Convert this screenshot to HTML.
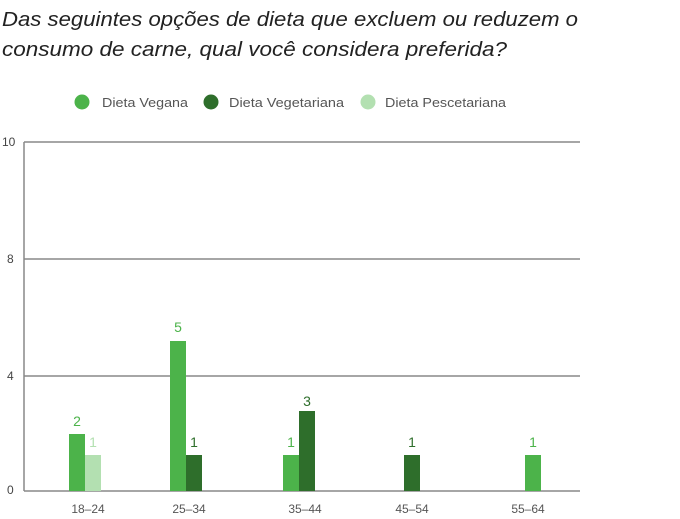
<!DOCTYPE html>
<html><head><meta charset="utf-8"><style>
html,body{margin:0;padding:0;background:#fff;}
svg{display:block;font-family:"Liberation Sans",sans-serif;}
</style></head><body>
<svg width="680" height="519" viewBox="0 0 680 519" xmlns="http://www.w3.org/2000/svg">
<g font-style="italic" font-size="20" fill="#222">
<text x="2" y="26" textLength="576" lengthAdjust="spacingAndGlyphs">Das seguintes opções de dieta que excluem ou reduzem o</text>
<text x="2" y="56" textLength="505" lengthAdjust="spacingAndGlyphs">consumo de carne, qual você considera preferida?</text>
</g>
<g font-size="13" fill="#555">
<circle cx="82" cy="102" r="7.5" fill="#4cb34a"/>
<text x="102" y="107" textLength="86" lengthAdjust="spacingAndGlyphs">Dieta Vegana</text>
<circle cx="211" cy="102" r="7.5" fill="#2e6e2b"/>
<text x="229" y="107" textLength="115" lengthAdjust="spacingAndGlyphs">Dieta Vegetariana</text>
<circle cx="368" cy="102" r="7.5" fill="#b3e0b1"/>
<text x="385" y="107" textLength="121" lengthAdjust="spacingAndGlyphs">Dieta Pescetariana</text>
</g>
<g stroke="#888" stroke-width="1.5" fill="none">
<line x1="24" y1="142" x2="580" y2="142"/>
<line x1="24" y1="259" x2="580" y2="259"/>
<line x1="24" y1="376" x2="580" y2="376"/>
<line x1="24" y1="491" x2="580" y2="491"/>
<line x1="24" y1="142" x2="24" y2="491"/>
</g>
<g font-size="12" fill="#444">
<text x="2" y="146">10</text>
<text x="7" y="263">8</text>
<text x="7" y="380">4</text>
<text x="7" y="494">0</text>
</g>
<g>
<rect x="69" y="434" width="16" height="57" fill="#4cb34a"/>
<rect x="85" y="455" width="16" height="36" fill="#b3e0b1"/>
<rect x="170" y="341" width="16" height="150" fill="#4cb34a"/>
<rect x="186" y="455" width="16" height="36" fill="#2e6e2b"/>
<rect x="283" y="455" width="16" height="36" fill="#4cb34a"/>
<rect x="299" y="411" width="16" height="80" fill="#2e6e2b"/>
<rect x="404" y="455" width="16" height="36" fill="#2e6e2b"/>
<rect x="525" y="455" width="16" height="36" fill="#4cb34a"/>
</g>
<g font-size="14" text-anchor="middle">
<text x="77" y="426" fill="#4cb34a">2</text>
<text x="93" y="447" fill="#b3e0b1">1</text>
<text x="178" y="332" fill="#4cb34a">5</text>
<text x="194" y="447" fill="#2e6e2b">1</text>
<text x="291" y="447" fill="#4cb34a">1</text>
<text x="307" y="406" fill="#2e6e2b">3</text>
<text x="412" y="447" fill="#2e6e2b">1</text>
<text x="533" y="447" fill="#4cb34a">1</text>
</g>
<g font-size="12" fill="#555" text-anchor="middle">
<text x="88" y="513">18–24</text>
<text x="189" y="513">25–34</text>
<text x="305" y="513">35–44</text>
<text x="412" y="513">45–54</text>
<text x="528" y="513">55–64</text>
</g>
</svg>
</body></html>
